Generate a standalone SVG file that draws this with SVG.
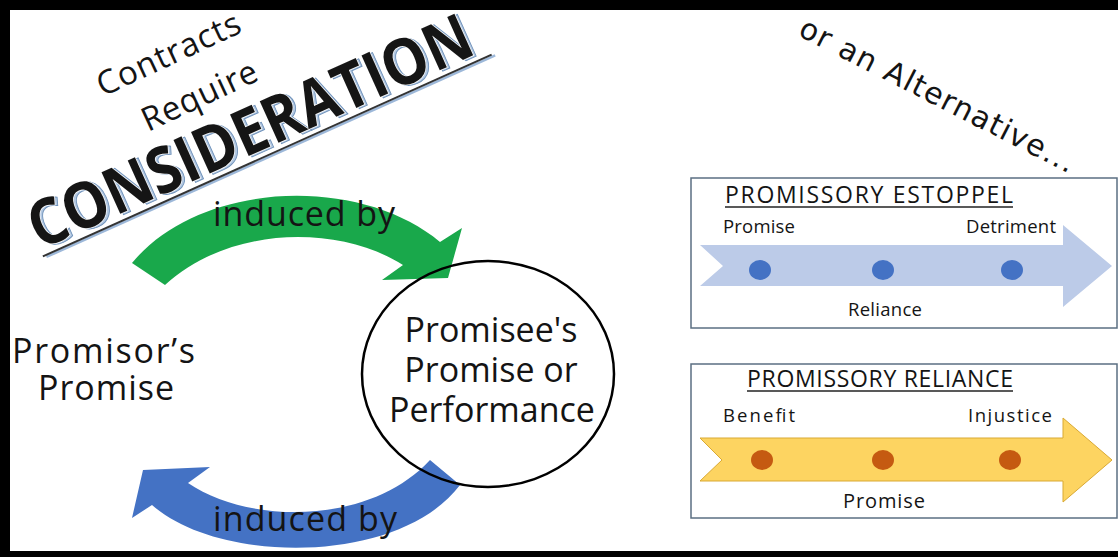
<svg xmlns="http://www.w3.org/2000/svg" width="1118" height="557" viewBox="0 0 1118 557">
<style>
.t{font-family:"Open Sans","Noto Sans","Liberation Sans",sans-serif;fill:#141414}
.big{font-size:34px}
.lbl{font-size:18.5px}
.ttl{font-size:23px}
.cons{font-family:"Open Sans","Liberation Sans",sans-serif;font-weight:700;font-size:64px}
.alt{font-family:"DejaVu Sans","Liberation Sans",sans-serif;font-size:30px;fill:#141414}
.box{fill:#fff;stroke:#5b6f82;stroke-width:1.5}
.dotb{fill:#4472c4}
.doto{fill:#c55a11}
</style>
<rect x="0" y="0" width="1118" height="557" fill="#fff"/>
<!-- frame -->
<rect x="0" y="0" width="1118" height="10" fill="#000"/>
<rect x="0" y="0" width="10" height="557" fill="#000"/>
<rect x="0" y="551" width="1118" height="6" fill="#000"/>

<g id="connectors">
  <path id="arrow-green" d="M132,263 C200,180 360,175 440,242 L462,228 L448,278 L382,280 L403,265 C340,225 230,225 165,285 Z" fill="#19a84b"/>
  <path id="arrow-blue" d="M430,460 L460,485 C400,565 220,565 152,505 L132,518 L143,470 L210,467 L188,483 C250,525 370,525 430,460 Z" fill="#4472c4"/>
  <text class="t big" x="213" y="226" textLength="182">induced by</text>
  <text class="t big" x="213" y="531" textLength="184">induced by</text>
</g>

<g id="title">
  <text class="t" font-size="33" transform="translate(103,97) rotate(-25)" textLength="155">Contracts</text>
  <text class="t" font-size="33" transform="translate(148,132) rotate(-25)" textLength="124">Require</text>
  <g transform="translate(40,250) rotate(-24.2)">
    <line x1="3" y1="9" x2="495" y2="9" stroke="#9db8d9" stroke-width="2.5"/>
    <line x1="0" y1="7" x2="492" y2="7" stroke="#333" stroke-width="2"/>
    <text class="cons" x="2.5" y="2" fill="#b4c9e2" stroke="#7193bb" stroke-width="1" textLength="480" lengthAdjust="spacingAndGlyphs">CONSIDERATION</text>
    <text class="cons" x="0" y="0" fill="#151515" stroke="#ffffff" stroke-width="1.4" paint-order="stroke" textLength="480" lengthAdjust="spacingAndGlyphs">CONSIDERATION</text>
  </g>
</g>

<g id="promisor">
  <text class="t big" x="12" y="363" textLength="183">Promisor’s</text>
  <text class="t big" x="38" y="400" textLength="136">Promise</text>
</g>

<g id="promisee">
  <ellipse cx="488" cy="374" rx="126" ry="113" fill="none" stroke="#000" stroke-width="2.5"/>
  <text class="t big" x="491" y="342" text-anchor="middle">Promisee's</text>
  <text class="t big" x="491" y="382" text-anchor="middle">Promise or</text>
  <text class="t big" x="492" y="422" text-anchor="middle">Performance</text>
</g>

<g id="alternative">
  <text class="alt" transform="translate(797,35) rotate(27)" textLength="305">or an Alternative...</text>
</g>

<g id="estoppel">
  <rect class="box" x="691" y="178" width="426" height="150"/>
  <text class="t ttl" x="725" y="203" textLength="288">PROMISSORY ESTOPPEL</text>
  <line x1="725" y1="207" x2="1013" y2="207" stroke="#222" stroke-width="1.3"/>
  <polygon points="700,245 1063,245 1063,225 1112,266 1063,307 1063,286 700,286 723,266" fill="#bccbe8"/>
  <ellipse class="dotb" cx="760" cy="270" rx="11" ry="10"/>
  <ellipse class="dotb" cx="883" cy="270" rx="11" ry="10"/>
  <ellipse class="dotb" cx="1012" cy="270" rx="11" ry="10"/>
  <text class="t lbl" x="723" y="233" textLength="72">Promise</text>
  <text class="t lbl" x="966" y="233" textLength="90">Detriment</text>
  <text class="t lbl" x="848" y="316" textLength="74">Reliance</text>
</g>

<g id="reliance">
  <rect class="box" x="691" y="364" width="426" height="154"/>
  <text class="t ttl" x="747" y="387" textLength="266">PROMISSORY RELIANCE</text>
  <line x1="747" y1="391" x2="1013" y2="391" stroke="#222" stroke-width="1.3"/>
  <polygon points="700,438 1063,438 1063,418 1112,460 1063,502 1063,481 700,481 722,460" fill="#fdd461" stroke="#d9a933" stroke-width="1"/>
  <ellipse class="doto" cx="762" cy="460" rx="11" ry="10"/>
  <ellipse class="doto" cx="883" cy="460" rx="11" ry="10"/>
  <ellipse class="doto" cx="1010" cy="460" rx="11" ry="10"/>
  <text class="t lbl" x="723" y="422" textLength="72">Benefit</text>
  <text class="t lbl" x="968" y="422" textLength="84">Injustice</text>
  <text class="t" font-size="20" x="843" y="508" textLength="82">Promise</text>
</g>
</svg>
